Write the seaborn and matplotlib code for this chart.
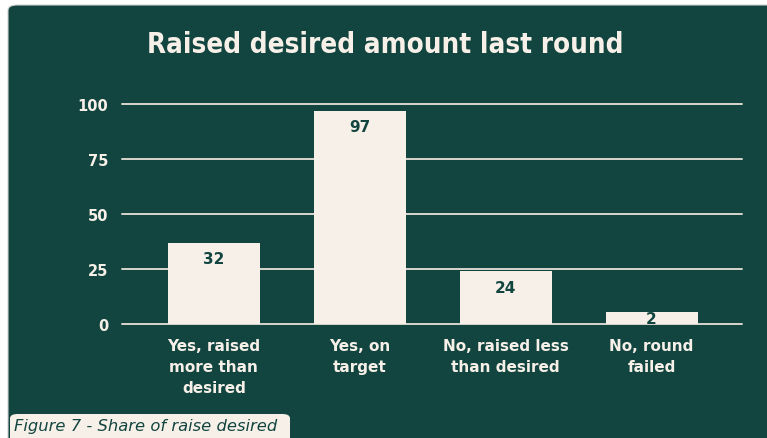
import matplotlib
matplotlib.use("Agg")
import matplotlib.pyplot as plt
import seaborn as sns
import pandas as pd
from matplotlib.patches import FancyBboxPatch

categories = ["Yes, raised\nmore than\ndesired", "Yes, on\ntarget", "No, raised less\nthan desired", "No, round\nfailed"]
label_values = [32, 97, 24, 2]
bar_heights = [37, 97, 24, 5.4]   # drawn heights
yticks = [0, 25, 50, 75, 100]

BG = "#12453f"
CREAM = "#f7f0e9"
GRID = "#d8d6cf"

sns.set_theme(style="white")
plt.rcParams["font.family"] = ["DejaVu Sans"]

fig = plt.figure(figsize=(7.67, 4.39), dpi=100)
fig.patch.set_facecolor("white")
W, H = 767, 439

panel = FancyBboxPatch((8 / W, -0.05), 1.2, 1 - 6 / H + 0.05,
                       boxstyle="round,pad=0,rounding_size=0.012",
                       transform=fig.transFigure, facecolor=BG,
                       edgecolor="#cfcfcf", linewidth=0.8, zorder=-10)
fig.patches.append(panel)

ax = fig.add_axes([122 / W, 1 - 325 / H, (742 - 122) / W, (325 - 105) / H])
ax.set_facecolor("none")
ax.set_zorder(2)

df = pd.DataFrame({"cat": categories, "h": bar_heights, "v": label_values})
sns.barplot(data=df, x="cat", y="h", color=CREAM, width=0.63, ax=ax,
            saturation=1, zorder=3)
for p in ax.patches:
    p.set_edgecolor("none")

ax.set_xlim(-0.63, 3.62)
ax.set_ylim(0, 100)
ax.set_yticks(yticks)
ax.set_yticklabels([str(t) for t in yticks], color=CREAM, fontsize=10.5,
                   fontweight="bold")
ax.tick_params(axis="y", length=0, pad=10)
ax.tick_params(axis="x", length=0, pad=10)
ax.set_xticks(range(len(categories)))
ax.set_xticklabels(categories, color=CREAM, fontsize=11, fontweight="bold",
                   linespacing=1.5, va="top")
for t in yticks:
    ax.axhline(t, color=GRID, linewidth=1.4, zorder=1, clip_on=False)
for s in ax.spines.values():
    s.set_visible(False)
ax.set_xlabel("")
ax.set_ylabel("")

for i, (h, v) in enumerate(zip(bar_heights, label_values)):
    ax.text(i, max(h - 7.3, 2.3), str(v), ha="center", va="center",
            color=BG, fontsize=11, fontweight="bold", zorder=4)

fig.text(385 / W, 1 - 45 / H, "Raised desired amount last round",
         ha="center", va="center", color=CREAM, fontsize=19.9,
         fontweight="bold", stretch="condensed", family=["DejaVu Sans"])

cap = FancyBboxPatch((10 / W, -0.05), 280 / W, (439 - 415) / H + 0.05,
                     boxstyle="round,pad=0,rounding_size=0.01",
                     transform=fig.transFigure, facecolor=CREAM,
                     edgecolor="none", zorder=5)
fig.patches.append(cap)
fig.text(14 / W, 1 - 427 / H, "Figure 7 - Share of raise desired",
         ha="left", va="center", color=BG, fontsize=11.8, style="italic",
         family=["DejaVu Sans"], zorder=6)

fig.savefig("out.png", dpi=100, facecolor=fig.get_facecolor())
